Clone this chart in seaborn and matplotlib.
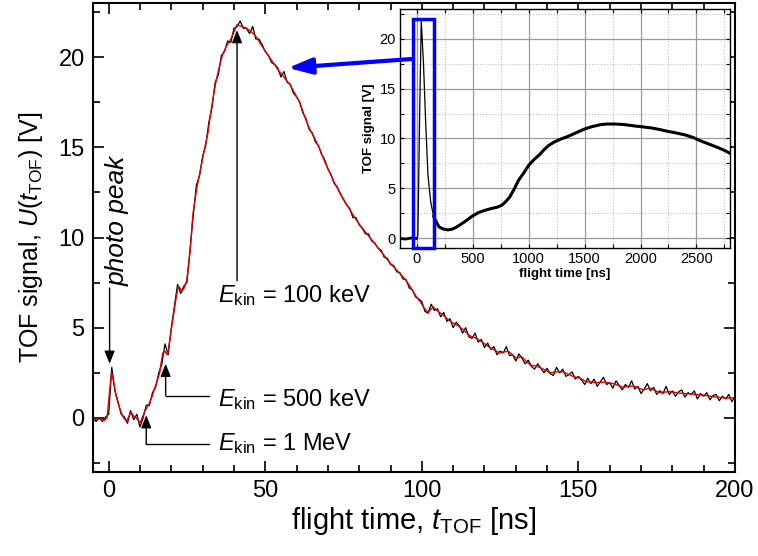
import numpy as np
import pandas as pd
import matplotlib
matplotlib.use("Agg")
import matplotlib.pyplot as plt
from matplotlib.patches import Rectangle
from matplotlib.ticker import MultipleLocator
import seaborn as sns

# ---- main trace: smoothed signal (red) ----
smooth_t = [-5, -3, -1.5, -0.5, 0.3, 0.9, 1.6, 2.4, 3.2, 4.0, 4.8, 5.7, 6.5, 7.2, 8.0, 8.8,
            9.5, 10.1, 10.8, 11.5, 12.3, 13.1, 13.9, 14.7, 15.5, 16.3, 16.8, 17.3, 18.0, 18.6,
            19.1, 19.5, 20.1, 20.6, 21.4, 22.2, 22.8, 23.3, 24.1, 24.9, 25.4, 26.0, 26.9, 28.2,
            29.6, 30.6, 31.7, 32.5, 33.3, 34.1, 34.9, 35.7, 36.5, 37.6, 38.7, 39.8, 41.0, 42.5,
            44.0, 45.6, 47.2, 49.0, 50.9, 52.5, 54.1, 55.5, 56.8, 57.8, 59.4, 61.0, 62.6, 64.2,
            65.8, 67.4, 69.0, 70.6, 72.2, 73.8, 75.4, 77.0, 78.6, 80.2, 81.8, 83.4, 85.0, 86.6,
            88.2, 89.8, 91.4, 93.0, 94.6, 96.2, 98.3, 99.4, 100.7, 102.0, 103.6, 105.2, 106.8,
            108.4, 110.0, 111.6, 113.2, 115.3, 116.9, 118.5, 120.1, 121.7, 123.3, 124.9, 127.6,
            130.2, 131.8, 134.5, 137.7, 140.9, 143.0, 145.1, 148.3, 150.5, 152.6, 155.8, 158.5,
            161.1, 164.3, 167.5, 170.7, 172.8, 176.0, 179.2, 182.4, 185.6, 188.8, 193.1, 197.3, 200]
smooth_v = [-0.1, -0.05, -0.15, 0.0, 1.5, 2.5, 2.0, 1.2, 0.7, 0.3, 0.0, -0.2, 0.1, 0.3, 0.1, 0.0,
            -0.15, -0.25, 0.05, 0.35, 0.6, 0.85, 1.2, 1.65, 2.05, 2.5, 3.1, 3.6, 3.7, 3.5,
            3.8, 4.3, 5.0, 5.6, 6.5, 7.3, 7.2, 7.0, 7.2, 7.6, 8.3, 9.2, 11.3, 12.8,
            14.0, 14.9, 15.8, 16.8, 17.7, 18.5, 19.15, 19.7, 20.2, 20.6, 20.9, 21.3, 21.8, 21.7,
            21.6, 21.4, 21.1, 20.6, 20.1, 19.7, 19.3, 19.0, 18.7, 18.5, 18.0, 17.5, 16.7, 16.0,
            15.5, 14.9, 14.2, 13.6, 13.0, 12.5, 12.0, 11.55, 11.1, 10.7, 10.35, 10.0, 9.65, 9.3,
            8.95, 8.6, 8.3, 8.0, 7.7, 7.3, 6.7, 6.46, 6.1, 5.85, 6.15, 5.9, 5.7,
            5.45, 5.25, 5.1, 4.9, 4.55, 4.45, 4.3, 4.1, 3.9, 3.75, 3.6, 3.7,
            3.3, 3.4, 2.95, 2.8, 2.5, 2.55, 2.55, 2.3, 2.2, 2.0, 1.96, 1.98,
            1.9, 1.7, 1.78, 1.55, 1.65, 1.4, 1.46, 1.37, 1.33, 1.28, 1.18, 1.09, 1.12]

# ---- main trace: raw signal (black), 1 ns sampling from -5 to 200 ns ----
raw_t = list(range(-5, 201))
raw_v = [-0.05, -0.2, 0.0, -0.2, 0.05, 0.2, 2.8, 1.5, 0.9, 0.2, 0.05, -0.3, 0.4, -0.1, 0.2,
         -0.5, 0.0, 0.7, 0.7, 1.4, 1.7, 2.5, 3.0, 4.1, 3.5, 5.0, 6.2, 7.4, 6.9, 7.3,
         7.5, 9.4, 11.2, 12.9, 13.4, 14.5, 15.1, 16.4, 17.2, 18.6, 19.0, 20.1, 20.3, 20.9, 20.8,
         21.6, 21.7, 22.0, 21.6, 21.6, 21.3, 21.7, 21.0, 21.0, 20.7, 20.3, 20.1, 19.7, 19.6, 19.4,
         18.9, 19.2, 18.6, 18.5, 18.0, 17.8, 17.5, 16.9, 16.6, 16.0, 15.8, 15.3, 15.1, 14.6, 14.3,
         13.8, 13.5, 13.0, 12.8, 12.4, 12.1, 11.8, 11.6, 11.1, 11.1, 10.7, 10.5, 10.2, 10.2, 9.8,
         9.7, 9.4, 9.3, 8.9, 8.85, 8.5, 8.45, 8.1, 8.05, 7.7, 7.65, 7.2, 7.1, 6.7, 6.6,
         6.45, 5.9, 5.8, 6.3, 5.95, 6.05, 5.6, 5.85, 5.35, 5.5, 5.0, 5.3, 5.1, 4.7, 5.0,
         4.5, 4.4, 4.7, 4.2, 4.35, 3.9, 4.15, 3.8, 3.95, 3.5, 3.7, 3.6, 3.95, 3.45, 3.5,
         3.15, 3.55, 3.3, 3.0, 3.2, 2.85, 2.7, 3.0, 2.75, 2.5, 2.75, 2.45, 2.35, 2.8, 2.5,
         2.7, 2.3, 2.4, 2.55, 2.15, 2.3, 2.1, 1.85, 2.2, 1.9, 2.15, 1.75, 2.0, 2.25, 1.85,
         1.95, 1.65, 2.05, 1.8, 1.55, 1.85, 1.7, 2.05, 1.6, 1.75, 1.35, 1.6, 1.9, 1.5, 1.7,
         1.3, 1.5, 1.35, 1.75, 1.3, 1.5, 1.2, 1.45, 1.55, 1.15, 1.4, 1.3, 1.5, 1.05, 1.35,
         1.2, 1.4, 1.0, 1.25, 1.3, 0.95, 1.2, 1.05, 1.3, 0.9, 1.2]

# ---- inset: full record up to 2800 ns ----
full_t = [-150, -100, -50, 0, 10, 25, 40, 60, 80, 100, 125, 150, 175, 200, 240, 280, 320, 370,
          430, 490, 550, 600, 660, 720, 760, 790, 830, 870, 910, 960, 1000, 1050, 1100, 1140,
          1180, 1230, 1290, 1350, 1420, 1500, 1570, 1650, 1700, 1770, 1850, 1950, 2030, 2100,
          2170, 2250, 2320, 2400, 2470, 2550, 2620, 2700, 2760, 2800]
full_v = [-0.05, -0.1, 0.0, -0.05, 0.3, 12.0, 21.8, 17.5, 11.5, 6.3, 3.6, 2.2, 1.6, 1.1, 0.9,
          0.82, 0.9, 1.2, 1.65, 2.15, 2.55, 2.75, 2.95, 3.1, 3.3, 3.6, 4.1, 4.9, 5.8, 6.6, 7.3,
          7.9, 8.4, 8.9, 9.3, 9.65, 9.95, 10.2, 10.55, 10.95, 11.2, 11.4, 11.45, 11.45, 11.4,
          11.25, 11.15, 11.05, 10.9, 10.7, 10.55, 10.35, 10.1, 9.7, 9.4, 9.05, 8.75, 8.5]

# zoom window of the main panel, shown in the inset
window_t = (-30, 155)
window_v = (-1, 22)

sns.set_style("ticks")
plt.rcParams["font.family"] = ["Liberation Sans", "DejaVu Sans"]
plt.rcParams["mathtext.fontset"] = "custom"
plt.rcParams["mathtext.rm"] = "Liberation Sans"
plt.rcParams["mathtext.it"] = "Liberation Sans:italic"
plt.rcParams["mathtext.bf"] = "Liberation Sans:bold"
for key in ("text.color", "axes.labelcolor", "xtick.color", "ytick.color", "axes.edgecolor"):
    plt.rcParams[key] = "black"

raw = pd.DataFrame({"t": raw_t, "v": raw_v})
smooth = pd.DataFrame({"t": smooth_t, "v": smooth_v})
full = pd.DataFrame({"t": full_t, "v": full_v})

fig = plt.figure(figsize=(7.58, 5.56), dpi=100)
ax = fig.add_axes([93 / 758, 1 - 472 / 556, 642 / 758, 469 / 556])

sns.lineplot(data=raw, x="t", y="v", ax=ax, color="black", lw=0.9, estimator=None, sort=False)
sns.lineplot(data=smooth, x="t", y="v", ax=ax, color="#e00000", lw=1.0, estimator=None, sort=False)

ax.set_xlim(-5, 200)
ax.set_ylim(-3, 23)
ax.xaxis.set_major_locator(MultipleLocator(50))
ax.xaxis.set_minor_locator(MultipleLocator(10))
ax.yaxis.set_major_locator(MultipleLocator(5))
ax.yaxis.set_minor_locator(MultipleLocator(2.5))
ax.tick_params(which="both", direction="in", top=True, right=True, width=1.2)
ax.tick_params(which="major", length=8, labelsize=17, pad=6)
ax.tick_params(which="minor", length=5)
for s in ax.spines.values():
    s.set_linewidth(1.5)
ax.set_xlabel(r"flight time, $t_\mathrm{TOF}$ [ns]", fontsize=21, labelpad=2)
ax.set_ylabel(r"TOF signal, $U$($t_\mathrm{TOF}$) [V]", fontsize=18, labelpad=10)

arrow = dict(arrowstyle="-|>,head_length=0.55,head_width=0.22", color="black", lw=1.0,
             mutation_scale=14, shrinkA=0, shrinkB=0)

# photo peak
ax.annotate("", xy=(0.3, 3.0), xytext=(0.3, 7.2), arrowprops=arrow)
ax.text(2.9, 10.9, "photo peak", rotation=90, style="italic", fontsize=19,
        ha="center", va="center")

# 100 keV
ax.annotate("", xy=(41.0, 21.5), xytext=(41.0, 7.6), arrowprops=arrow)
ax.text(34.8, 6.4, r"$E_\mathrm{kin}$ = 100 keV", fontsize=17, ha="left", va="baseline")

# 500 keV
ax.plot([18.2, 32.0], [1.22, 1.22], color="black", lw=1.0)
ax.annotate("", xy=(18.2, 3.0), xytext=(18.2, 1.22), arrowprops=arrow)
ax.text(34.8, 0.63, r"$E_\mathrm{kin}$ = 500 keV", fontsize=17, ha="left", va="baseline")

# 1 MeV
ax.plot([12.0, 32.0], [-1.46, -1.46], color="black", lw=1.0)
ax.annotate("", xy=(12.0, 0.15), xytext=(12.0, -1.46), arrowprops=arrow)
ax.text(34.8, -1.78, r"$E_\mathrm{kin}$ = 1 MeV", fontsize=17, ha="left", va="baseline")

# ---- inset ----
axins = fig.add_axes([400 / 758, 1 - 248 / 556, 330 / 758, 239 / 556])
axins.set_facecolor("white")
sns.lineplot(data=full, x="t", y="v", ax=axins, color="black", lw=0.9, estimator=None, sort=False)
base = full[full.t <= 0]
tail = full[full.t >= 150]
sns.lineplot(data=base, x="t", y="v", ax=axins, color="black", lw=2.0, estimator=None, sort=False)
sns.lineplot(data=tail, x="t", y="v", ax=axins, color="black", lw=2.2, estimator=None, sort=False)
axins.set_xlim(-150, 2800)
axins.set_ylim(-1, 23)
axins.xaxis.set_major_locator(MultipleLocator(500))
axins.xaxis.set_minor_locator(MultipleLocator(250))
axins.yaxis.set_major_locator(MultipleLocator(5))
axins.yaxis.set_minor_locator(MultipleLocator(2.5))
axins.grid(which="major", color="#9a9a9a", lw=0.9, ls="-")
axins.grid(which="minor", color="#c0c0c0", lw=0.8, ls=":")
axins.set_axisbelow(True)
axins.tick_params(which="both", direction="in", top=True, right=True, length=3, width=0.8)
axins.tick_params(which="major", labelsize=10.5, pad=3)
for s in axins.spines.values():
    s.set_linewidth(1.0)
axins.set_xlabel("flight time [ns]", fontsize=9.5, fontweight="bold", labelpad=1)
axins.set_ylabel("TOF signal [V]", fontsize=9.5, fontweight="bold", labelpad=3)
axins.add_patch(Rectangle((window_t[0], window_v[0]), window_t[1] - window_t[0],
                          window_v[1] - window_v[0], fill=False, edgecolor="#0000ff",
                          lw=2.5, clip_on=False, zorder=5))

# blue pointer from the inset window to the main peak
axins.annotate("", xy=(57.2, 19.4), xycoords=ax.transData,
               xytext=(97.1, 19.9), textcoords=ax.transData,
               arrowprops=dict(arrowstyle="-|>,head_length=0.9,head_width=0.3", color="#0000ff",
                               lw=3, mutation_scale=16, shrinkA=0, shrinkB=0),
               annotation_clip=False)

fig.savefig("out.png", dpi=100)
